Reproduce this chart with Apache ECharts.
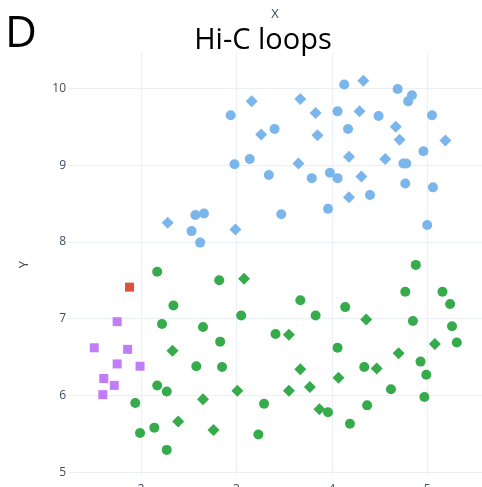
<!DOCTYPE html>
<html>
<head>
<meta charset="utf-8">
<script src="https://cdn.jsdelivr.net/npm/echarts@6/dist/echarts.min.js"></script>
<style>html,body{margin:0;padding:0;background:#fff;overflow:hidden}#c{width:482px;height:487px}</style>
</head>
<body>
<div id="c"></div>
<script>
// Upper cluster (blue)
const blueCircleX = [2.94,3.40,2.98,3.14,3.34,3.79,3.47,2.57,2.66,2.53,2.62,4.13,4.69,4.84,4.80,4.06,4.49,5.05,4.17,4.96,4.75,4.78,3.98,4.06,4.77,5.06,4.40,3.96,5.00];
const blueCircleY = [9.65,9.47,9.01,9.08,8.87,8.83,8.36,8.35,8.37,8.14,7.99,10.05,9.99,9.91,9.83,9.70,9.64,9.65,9.47,9.18,9.02,9.02,8.90,8.83,8.76,8.71,8.61,8.43,8.22];
const blueDiamondX = [3.16,3.67,3.83,3.26,3.85,3.65,2.28,2.99,4.33,4.29,4.67,4.71,5.19,4.18,4.56,4.31,4.18];
const blueDiamondY = [9.83,9.86,9.68,9.40,9.39,9.02,8.25,8.16,10.10,9.70,9.50,9.33,9.32,9.11,9.08,8.85,8.58];
// Lower cluster (green)
const greenCircleX = [2.17,2.82,2.34,3.05,2.22,2.65,3.41,2.83,2.58,2.85,2.17,2.27,1.94,3.29,2.14,1.99,3.23,2.27,3.67,3.83,4.14,4.88,4.77,5.16,5.24,4.85,5.26,4.06,5.31,4.34,4.93,4.99,4.62,4.97,4.37,3.96,4.19];
const greenCircleY = [7.61,7.50,7.17,7.04,6.93,6.89,6.80,6.70,6.38,6.37,6.13,6.05,5.90,5.89,5.58,5.51,5.49,5.29,7.24,7.04,7.15,7.70,7.35,7.35,7.19,6.97,6.90,6.62,6.69,6.37,6.44,6.27,6.08,5.98,5.87,5.78,5.63];
const greenDiamondX = [3.08,2.33,3.01,2.65,2.39,2.76,3.55,4.36,5.08,4.70,3.67,4.47,4.07,3.77,3.55,3.87];
const greenDiamondY = [7.52,6.58,6.06,5.95,5.66,5.55,6.79,6.99,6.67,6.55,6.34,6.35,6.23,6.11,6.06,5.82];
// Purple squares
const purpleX = [1.75,1.51,1.86,1.75,1.99,1.61,1.72,1.60];
const purpleY = [6.96,6.62,6.60,6.41,6.38,6.22,6.13,6.01];
// Red square
const redX = [1.88];
const redY = [7.41];
// Tick labels
const xTicks = [2,3,4,5];
const yTicks = [5,6,7,8,9,10];

const zip = (xs, ys) => xs.map((x, i) => [x, ys[i]]);
const axisColor = '#3f4c67';
const gridColor = '#ebf0f8';

const chart = echarts.init(document.getElementById('c'), null, {renderer: 'canvas', width: 482, height: 487});
chart.setOption({
  animation: false,
  backgroundColor: '#ffffff',
  graphic: [
    {type: 'text', x: 5, y: 34, style: {text: 'D', fontFamily: 'Open Sans', fontSize: 44, fill: '#000', textAlign: 'left', textVerticalAlign: 'middle'}},
    {type: 'text', x: 263, y: 41, style: {text: 'Hi-C loops', fontFamily: 'Open Sans', fontSize: 29, fill: '#000', textAlign: 'center', textVerticalAlign: 'middle'}},
    {type: 'text', x: 275, y: 14, style: {text: 'X', fontFamily: 'Open Sans', fontSize: 13, fill: axisColor, textAlign: 'center', textVerticalAlign: 'middle'}}
  ],
  grid: {left: 68, width: 414, top: 53, height: 423, containLabel: false, outerBoundsMode: 'none'},
  xAxis: {
    type: 'value', min: 1.235, max: 5.574,
    axisLine: {show: false},
    axisTick: {show: false, customValues: xTicks},
    axisLabel: {customValues: xTicks, margin: 8, fontFamily: 'Open Sans', fontSize: 12, color: axisColor},
    splitLine: {show: true, lineStyle: {color: gridColor, width: 1}}
  },
  yAxis: {
    type: 'value', min: 4.95, max: 10.46,
    name: 'Y', nameLocation: 'middle', nameGap: 37, nameRotate: 90,
    nameTextStyle: {fontFamily: 'Open Sans', fontSize: 13, color: axisColor},
    axisLine: {show: false},
    axisTick: {show: false, customValues: yTicks},
    axisLabel: {customValues: yTicks, margin: 2, fontFamily: 'Open Sans', fontSize: 12, color: axisColor},
    splitLine: {show: true, lineStyle: {color: gridColor, width: 1}}
  },
  series: [
    {type: 'scatter', symbol: 'circle', symbolSize: 10, data: zip(blueCircleX, blueCircleY), itemStyle: {color: '#7ab6eb', opacity: 1}},
    {type: 'scatter', symbol: 'diamond', symbolSize: 12, data: zip(blueDiamondX, blueDiamondY), itemStyle: {color: '#7ab6eb', opacity: 1}},
    {type: 'scatter', symbol: 'circle', symbolSize: 10, data: zip(greenCircleX, greenCircleY), itemStyle: {color: '#36ab4c', opacity: 1}},
    {type: 'scatter', symbol: 'diamond', symbolSize: 12, data: zip(greenDiamondX, greenDiamondY), itemStyle: {color: '#36ab4c', opacity: 1}},
    {type: 'scatter', symbol: 'rect', symbolSize: 9, data: zip(purpleX, purpleY), itemStyle: {color: '#c17cf9', opacity: 1}},
    {type: 'scatter', symbol: 'rect', symbolSize: 9, data: zip(redX, redY), itemStyle: {color: '#e0503e', opacity: 1}}
  ]
});
</script>
</body>
</html>
